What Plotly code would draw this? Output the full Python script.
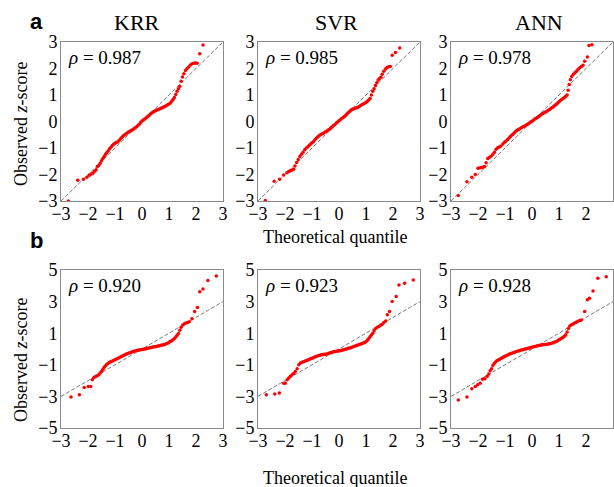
import plotly.graph_objects as go

# ---- Q-Q data: theoretical quantile (x) vs observed z-score (y) ----
# Row a
krr_a_x = [-2.73, -2.38, -2.17, -2.04, -1.95, -1.88, -1.82, -1.76, -1.70, -1.65, -1.60, -1.55, -1.50, -1.45,
           -1.40, -1.35, -1.30, -1.25, -1.20, -1.15, -1.10, -1.05, -1.00,
           -0.95, -0.90, -0.85, -0.80, -0.75, -0.70, -0.65, -0.60, -0.55, -0.50, -0.45, -0.40, -0.35, -0.30,
           -0.25, -0.20, -0.15, -0.10, -0.05,
           0.00, 0.05, 0.10, 0.15, 0.20, 0.25, 0.30, 0.35, 0.40, 0.45, 0.50, 0.55, 0.60, 0.65, 0.70, 0.75,
           0.80, 0.85, 0.90, 0.95, 1.00, 1.05, 1.10, 1.15, 1.20, 1.25, 1.30, 1.35, 1.40, 1.45, 1.50, 1.55,
           1.61, 1.67, 1.73, 1.79, 1.86, 1.92, 1.98, 2.04, 2.14, 2.26]
krr_a_y = [-3.00, -2.22, -2.18, -2.10, -2.03, -1.98, -1.95, -1.88, -1.82, -1.70, -1.66, -1.58, -1.48, -1.40,
           -1.32, -1.24, -1.17, -1.10, -1.03, -0.97, -0.91, -0.86, -0.82,
           -0.79, -0.77, -0.72, -0.66, -0.60, -0.55, -0.51, -0.47, -0.43, -0.40, -0.37, -0.34, -0.31, -0.27,
           -0.24, -0.20, -0.15, -0.10, -0.04,
           0.02, 0.06, 0.09, 0.13, 0.18, 0.22, 0.27, 0.31, 0.35, 0.38, 0.41, 0.43, 0.45, 0.47, 0.50, 0.52,
           0.55, 0.57, 0.60, 0.63, 0.66, 0.70, 0.76, 0.83, 0.91, 1.02, 1.14, 1.24, 1.33, 1.52, 1.68, 1.80,
           1.92, 2.00, 2.06, 2.13, 2.18, 2.20, 2.21, 2.20, 2.56, 2.89]

svr_a_x = [-2.73, -2.40, -2.20, -2.05, -1.93, -1.86, -1.80, -1.74, -1.68, -1.63, -1.57, -1.51, -1.45, -1.39,
           -1.33, -1.27, -1.21, -1.15, -1.10, -1.05, -1.00,
           -0.95, -0.90, -0.85, -0.80, -0.75, -0.70, -0.65, -0.60, -0.55, -0.50, -0.45, -0.40, -0.35, -0.30,
           -0.25, -0.20, -0.15, -0.10, -0.05,
           0.00, 0.05, 0.10, 0.15, 0.20, 0.25, 0.30, 0.35, 0.40, 0.45, 0.50, 0.55, 0.60, 0.65, 0.70, 0.75,
           0.80, 0.85, 0.90, 0.95, 1.00, 1.05, 1.10, 1.15, 1.20, 1.25, 1.30, 1.35, 1.40, 1.45, 1.50, 1.55, 1.60,
           1.66, 1.72, 1.78, 1.84, 1.90, 1.97, 2.09, 2.25]
svr_a_y = [-2.98, -2.25, -2.18, -2.02, -1.93, -1.89, -1.86, -1.83, -1.80, -1.68, -1.55, -1.43, -1.32, -1.24,
           -1.16, -1.07, -1.00, -0.95, -0.90, -0.85, -0.80,
           -0.76, -0.70, -0.64, -0.59, -0.55, -0.51, -0.48, -0.45, -0.42, -0.39, -0.36, -0.32, -0.29, -0.24,
           -0.20, -0.15, -0.11, -0.06, -0.02,
           0.03, 0.07, 0.11, 0.15, 0.19, 0.24, 0.29, 0.34, 0.39, 0.43, 0.46, 0.48, 0.50, 0.52, 0.54, 0.57,
           0.60, 0.63, 0.66, 0.69, 0.72, 0.76, 0.81, 0.87, 1.00, 1.14, 1.24, 1.36, 1.46, 1.57, 1.62, 1.67, 1.78,
           1.90, 1.98, 2.04, 2.07, 2.08, 2.50, 2.60, 2.77]

ann_a_x = [-2.73, -2.41, -2.23, -2.10, -2.00, -1.94, -1.88, -1.82, -1.76, -1.70, -1.64, -1.58, -1.52, -1.45,
           -1.39, -1.33, -1.27, -1.21, -1.15, -1.08, -1.02, -0.96, -0.90,
           -0.85, -0.80, -0.75, -0.70, -0.65, -0.60, -0.55, -0.50, -0.45, -0.40, -0.35, -0.30, -0.25, -0.20,
           -0.15, -0.10, -0.05,
           0.00, 0.05, 0.10, 0.15, 0.20, 0.25, 0.30, 0.35, 0.40, 0.45, 0.50, 0.55, 0.60, 0.65, 0.70, 0.75,
           0.80, 0.85, 0.90, 0.95, 1.00, 1.05, 1.10, 1.15, 1.20, 1.25, 1.30,
           1.34, 1.38, 1.42, 1.47, 1.53, 1.59, 1.65, 1.71, 1.77, 1.83, 1.89, 1.95, 2.05, 2.11, 2.22]
ann_a_y = [-2.79, -2.27, -2.10, -2.00, -1.76, -1.75, -1.74, -1.73, -1.70, -1.56, -1.40, -1.36, -1.31, -1.24,
           -1.16, -1.05, -0.99, -0.96, -0.92, -0.85, -0.78, -0.74, -0.68,
           -0.62, -0.57, -0.52, -0.47, -0.42, -0.37, -0.33, -0.30, -0.27, -0.24, -0.21, -0.19, -0.16, -0.12,
           -0.09, -0.06, -0.02,
           0.01, 0.05, 0.09, 0.12, 0.15, 0.19, 0.23, 0.27, 0.30, 0.33, 0.36, 0.39, 0.42, 0.45, 0.49, 0.53,
           0.57, 0.61, 0.65, 0.70, 0.75, 0.79, 0.83, 0.87, 0.91, 0.95, 1.00,
           1.18, 1.40, 1.58, 1.70, 1.78, 1.84, 1.90, 1.97, 2.03, 2.08, 2.12, 2.27, 2.43, 2.87, 2.90]

# Row b
krr_b_x = [-2.63, -2.32, -2.14, -1.99, -1.90, -1.84, -1.78, -1.72, -1.66, -1.60,
           -1.55, -1.50, -1.45, -1.40, -1.35, -1.30, -1.25, -1.20, -1.15, -1.10, -1.05, -1.00, -0.95, -0.90,
           -0.85, -0.80, -0.75, -0.70, -0.65, -0.60, -0.55, -0.50, -0.45, -0.40, -0.35, -0.30, -0.25, -0.20,
           -0.15, -0.10, -0.05,
           0.00, 0.05, 0.10, 0.15, 0.20, 0.25, 0.30, 0.35, 0.40, 0.45, 0.50, 0.55, 0.60, 0.65, 0.70, 0.75,
           0.80, 0.85, 0.90, 0.95, 1.00, 1.05, 1.10, 1.15, 1.20, 1.25, 1.30, 1.35, 1.40, 1.45,
           1.51, 1.57, 1.63, 1.69, 1.75, 1.85, 1.95, 2.05, 2.14, 2.26, 2.44, 2.75]
krr_b_y = [-3.04, -2.89, -2.43, -2.37, -2.37, -1.95, -1.80, -1.74, -1.70, -1.63,
           -1.52, -1.42, -1.28, -1.16, -1.06, -0.97, -0.90, -0.84, -0.80, -0.76, -0.72, -0.68, -0.64, -0.60,
           -0.55, -0.50, -0.46, -0.42, -0.38, -0.34, -0.30, -0.27, -0.24, -0.21, -0.18, -0.15, -0.12, -0.10,
           -0.08, -0.06, -0.04,
           -0.03, -0.02, 0.00, 0.02, 0.04, 0.06, 0.08, 0.10, 0.12, 0.14, 0.15, 0.17, 0.19, 0.21, 0.23, 0.25,
           0.27, 0.30, 0.33, 0.37, 0.42, 0.47, 0.52, 0.58, 0.66, 0.76, 0.87, 0.98, 1.18, 1.38,
           1.52, 1.60, 1.64, 1.68, 1.73, 1.91, 2.37, 2.62, 3.63, 3.80, 4.33, 4.62]

svr_b_x = [-2.69, -2.38, -2.21, -2.05, -1.99, -1.92, -1.86, -1.80, -1.74, -1.68, -1.62, -1.55, -1.49, -1.43,
           -1.37, -1.31, -1.25,
           -1.20, -1.15, -1.10, -1.05, -1.00, -0.95, -0.90, -0.85, -0.80, -0.75, -0.70, -0.65, -0.60, -0.55,
           -0.50, -0.45, -0.40, -0.35, -0.30, -0.25, -0.20, -0.15, -0.10, -0.05,
           0.00, 0.05, 0.10, 0.15, 0.20, 0.25, 0.30, 0.35, 0.40, 0.45, 0.50, 0.55, 0.60, 0.65, 0.70, 0.75,
           0.80, 0.85, 0.90, 0.95, 1.00, 1.05, 1.10, 1.15, 1.20, 1.25, 1.30,
           1.36, 1.42, 1.48, 1.54, 1.60, 1.66, 1.73, 1.79, 1.87, 1.97, 2.12, 2.22, 2.43, 2.75]
svr_b_y = [-2.89, -2.85, -2.79, -2.16, -2.16, -1.95, -1.84, -1.72, -1.63, -1.55, -1.42, -1.25, -1.00, -0.89,
           -0.84, -0.80, -0.76,
           -0.72, -0.69, -0.65, -0.61, -0.58, -0.55, -0.51, -0.48, -0.45, -0.41, -0.39, -0.37, -0.35, -0.34,
           -0.33, -0.31, -0.28, -0.25, -0.22, -0.20, -0.18, -0.16, -0.14, -0.13,
           -0.12, -0.10, -0.08, -0.06, -0.03, -0.01, 0.01, 0.04, 0.07, 0.10, 0.13, 0.16, 0.19, 0.22, 0.25, 0.28,
           0.31, 0.34, 0.38, 0.41, 0.46, 0.56, 0.66, 0.77, 0.88, 1.00, 1.15,
           1.30, 1.38, 1.43, 1.50, 1.57, 1.68, 1.78, 2.16, 2.37, 3.00, 3.32, 4.05, 4.16, 4.37]

ann_b_x = [-2.73, -2.41, -2.23, -2.10, -2.01, -1.92, -1.83, -1.74, -1.66, -1.60,
           -1.55, -1.50, -1.45, -1.40, -1.35, -1.30, -1.25, -1.20, -1.15, -1.10, -1.05, -1.00, -0.95, -0.90,
           -0.85, -0.80, -0.75, -0.70, -0.65, -0.60, -0.55, -0.50, -0.45, -0.40, -0.35, -0.30, -0.25, -0.20,
           -0.15, -0.10, -0.05,
           0.00, 0.05, 0.10, 0.15, 0.20, 0.25, 0.30, 0.35, 0.40, 0.45, 0.50, 0.55, 0.60, 0.65, 0.70, 0.75,
           0.80, 0.85, 0.90, 0.95, 1.00, 1.05, 1.10, 1.15, 1.20, 1.25, 1.30, 1.35, 1.40,
           1.46, 1.52, 1.58, 1.64, 1.70, 1.77, 1.83, 1.95, 2.05, 2.13, 2.26, 2.44, 2.75]
ann_b_y = [-3.23, -3.04, -2.52, -2.37, -2.27, -2.16, -1.91, -1.88, -1.72, -1.58,
           -1.38, -1.25, -1.05, -0.92, -0.82, -0.75, -0.70, -0.65, -0.60, -0.55, -0.50, -0.46, -0.42, -0.38,
           -0.34, -0.30, -0.27, -0.24, -0.21, -0.18, -0.15, -0.12, -0.09, -0.07, -0.04, -0.02, 0.00, 0.02,
           0.05, 0.07, 0.09,
           0.11, 0.14, 0.16, 0.18, 0.20, 0.22, 0.24, 0.26, 0.27, 0.28, 0.29, 0.30, 0.31, 0.33, 0.35, 0.38,
           0.41, 0.44, 0.48, 0.53, 0.58, 0.63, 0.68, 0.74, 0.80, 0.90, 1.08, 1.30, 1.45,
           1.53, 1.58, 1.64, 1.70, 1.76, 1.80, 1.84, 2.37, 3.11, 3.21, 3.67, 4.47, 4.58]

models = ["KRR", "SVR", "ANN"]
rho_a = ["0.987", "0.985", "0.978"]
rho_b = ["0.920", "0.923", "0.928"]
ticks_x = [-3, -2, -1, 0, 1, 2, 3]
ticks_y_a = [-3, -2, -1, 0, 1, 2, 3]
ticks_y_b = [-5, -3, -1, 1, 3, 5]

panels = [
    (krr_a_x, krr_a_y), (svr_a_x, svr_a_y), (ann_a_x, ann_a_y),
    (krr_b_x, krr_b_y), (svr_b_x, svr_b_y), (ann_b_x, ann_b_y),
]
for px_, py_ in panels:
    assert len(px_) == len(py_)

# ---- layout geometry (pixels) ----
W, H = 614, 487
col_px = [(61, 223), (258, 420), (451, 613)]
row_px = [(42, 201), (270, 428)]


def fx(p):
    return p / W


def fy(p):
    return 1 - p / H


SERIF = "Liberation Serif, Times New Roman, serif"
AXIS_GRAY = "#8a8a8a"

fig = go.Figure()
layout = dict(
    width=W, height=H, autosize=False,
    margin=dict(l=0, r=0, t=0, b=0, pad=0, autoexpand=False),
    paper_bgcolor="white", plot_bgcolor="white",
    showlegend=False,
    font=dict(family=SERIF, color="black", size=18),
)

annotations = []
for i, (xs, ys) in enumerate(panels):
    r, c = divmod(i, 3)
    n = i + 1
    xa = "x" if n == 1 else f"x{n}"
    ya = "y" if n == 1 else f"y{n}"
    x0, x1 = col_px[c]
    y0, y1 = row_px[r]
    yr = [-3, 3] if r == 0 else [-5, 5]
    common = dict(showline=True, mirror=True, linecolor=AXIS_GRAY, linewidth=1,
                  showgrid=False, zeroline=False, ticks="", automargin=False,
                  tickfont=dict(family=SERIF, size=18, color="black"))
    layout["xaxis" if n == 1 else f"xaxis{n}"] = dict(
        domain=[fx(x0), fx(x1)], range=[-3, 3], anchor=ya,
        tickvals=ticks_x, ticklabelstandoff=-4, **common)
    layout["yaxis" if n == 1 else f"yaxis{n}"] = dict(
        domain=[fy(y1), fy(y0)], range=yr, anchor=xa,
        tickvals=ticks_y_a if r == 0 else ticks_y_b, ticklabelstandoff=-1, **common)

    # reference line y = x
    fig.add_trace(go.Scatter(x=[-3, 3], y=[-3, 3], mode="lines", xaxis=xa, yaxis=ya,
                             line=dict(color="#7a7a7a", width=1, dash="4px,2px"),
                             hoverinfo="skip"))
    fig.add_trace(go.Scatter(x=xs, y=ys, mode="markers", xaxis=xa, yaxis=ya,
                             marker=dict(color="#ff0000", size=3.5, line=dict(width=0))))

    rho = rho_a[c] if r == 0 else rho_b[c]
    annotations.append(dict(
        text=f"<i>ρ</i> = {rho}", xref="paper", yref="paper",
        x=fx(x0 + 5), y=fy(y0 + 3), xanchor="left", yanchor="top",
        showarrow=False, font=dict(family=SERIF, size=19, color="black")))

# model titles
title_x = [137, 336, 539]
for name, tx in zip(models, title_x):
    annotations.append(dict(text=name, xref="paper", yref="paper", x=fx(tx), y=fy(22),
                            xanchor="center", yanchor="middle", showarrow=False,
                            font=dict(family=SERIF, size=22, color="black")))

# panel letters
for letter, ly in (("a", 21), ("b", 240)):
    annotations.append(dict(text=f"<b>{letter}</b>", xref="paper", yref="paper",
                            x=fx(36), y=fy(ly), xanchor="center", yanchor="middle",
                            showarrow=False,
                            font=dict(family="Liberation Sans, Arial, sans-serif", size=22,
                                      color="black")))

# axis titles
for ty in (124, 360):
    annotations.append(dict(text="Observed <i>z</i>-score", xref="paper", yref="paper",
                            x=fx(21), y=fy(ty), xanchor="center", yanchor="middle",
                            textangle=-90, showarrow=False,
                            font=dict(family=SERIF, size=18, color="black")))
for ty in (237, 478):
    annotations.append(dict(text="Theoretical quantile", xref="paper", yref="paper",
                            x=fx(335), y=fy(ty), xanchor="center", yanchor="middle",
                            showarrow=False,
                            font=dict(family=SERIF, size=18, color="black")))

layout["annotations"] = annotations
fig.update_layout(**layout)
fig.write_html("out.html")
